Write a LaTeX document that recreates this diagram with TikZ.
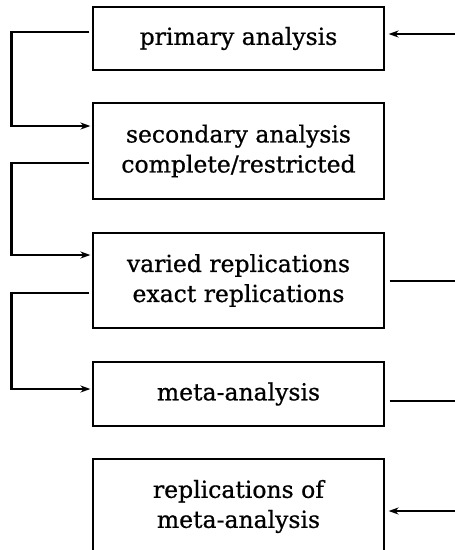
\documentclass[tikz,border=0pt]{standalone}
\usepackage{fontspec}
\setmainfont{DejaVu Serif}[RawFeature={embolden=0.8}]
\usetikzlibrary{arrows.meta}
\begin{document}
\begin{tikzpicture}[x=1pt,y=-1pt,
  stage/.style={draw, line width=1.2pt, minimum width=291pt, align=center,
    inner sep=0pt, font=\fontsize{23.5}{30}\selectfont},
  conn/.style={line width=2.2pt, -{Stealth[length=10pt,width=7pt]}},
  plain/.style={line width=2.2pt}]
\useasboundingbox (0,0) rectangle (455,550);
\begin{scope}
\clip (0,0) rectangle (455,550);
\node[stage, minimum height=63pt] (b1) at (238.5,38.5) {primary analysis};
\node[stage, minimum height=96pt] (b2) at (238.5,151) {secondary analysis\\complete/restricted};
\node[stage, minimum height=95pt] (b3) at (238.5,280.5) {varied replications\\exact replications};
\node[stage, minimum height=64pt] (b4) at (238.5,394) {meta-analysis};
\node[stage, minimum height=95pt] (b5) at (238.5,506.5) {replications of\\meta-analysis};
\end{scope}

% feedback loops on the left
\draw[conn] ([xshift=-3pt,yshift=6.5pt]b1.west) -- ++(-78,0) |- ([xshift=-2pt,yshift=25pt]b2.west);
\draw[conn] ([xshift=-3pt,yshift=-12pt]b2.west) -- ++(-78,0) |- ([xshift=-2pt,yshift=25.5pt]b3.west);
\draw[conn] ([xshift=-3pt,yshift=-12.5pt]b3.west) -- ++(-78,0) |- ([xshift=-2pt,yshift=5pt]b4.west);

% links to the right margin
\coordinate (r1) at (455,34);
\coordinate (r3) at (455,281);
\coordinate (r4) at (455,401);
\coordinate (r5) at (455,511);
\draw[conn] (r1) -- ([xshift=4pt]b1.east |- r1);
\draw[plain] ([xshift=5pt]b3.east |- r3) -- (r3);
\draw[plain] ([xshift=5pt]b4.east |- r4) -- (r4);
\draw[conn] (r5) -- ([xshift=4pt]b5.east |- r5);
\end{tikzpicture}
\end{document}
